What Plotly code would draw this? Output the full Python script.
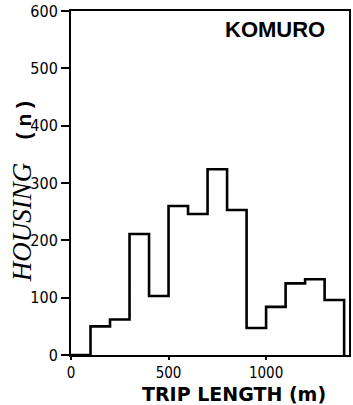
import plotly.graph_objects as go

# Data: housing counts per 100 m trip-length class (left edges)
bin_left = [100, 200, 300, 400, 500, 600, 700, 800, 900, 1000, 1100, 1200, 1300]
bin_right_end = 1400
housing = [50, 62, 211, 103, 260, 246, 324, 253, 47, 84, 125, 132, 96]
x_ticks = [0, 500, 1000]
y_ticks = [0, 100, 200, 300, 400, 500, 600]

xs = [0] + bin_left + [bin_right_end]
ys = [0] + housing + [0]

fig = go.Figure()
fig.add_trace(go.Scatter(
    x=xs, y=ys, mode="lines", line=dict(shape="hv", color="black", width=2.6),
    showlegend=False, hoverinfo="skip"))

tick_font = dict(family="Liberation Sans Narrow, DejaVu Sans Condensed", size=16, color="black")
xtick_font = dict(family="Liberation Sans Narrow, DejaVu Sans Condensed", size=15, color="black")

fig.update_layout(
    width=353, height=405,
    margin=dict(l=71, r=2, t=11, b=50),
    plot_bgcolor="white", paper_bgcolor="white",
    xaxis=dict(range=[0, 1425], showline=True, linecolor="black", linewidth=2, mirror=True,
               ticks="outside", ticklen=3, tickwidth=2, tickcolor="black",
               tickvals=x_ticks, ticktext=[str(v) for v in x_ticks],
               showgrid=False, zeroline=False, tickfont=xtick_font),
    yaxis=dict(range=[0, 600], showline=True, linecolor="black", linewidth=2, mirror=True,
               ticks="outside", ticklen=8, tickwidth=2, tickcolor="black",
               tickvals=y_ticks, ticktext=[str(v) for v in y_ticks],
               showgrid=False, zeroline=False, tickfont=tick_font),
    annotations=[
        dict(text="<b>KOMURO</b>", x=0.734, y=0.946, xref="paper", yref="paper",
             xanchor="center", yanchor="middle",
             showarrow=False, font=dict(family="Liberation Sans", size=22, color="black")),
        dict(text="<b>TRIP LENGTH (m)</b>", x=0.586, y=-0.0756, xref="paper", yref="paper",
             showarrow=False, xanchor="center", yanchor="top",
             font=dict(family="DejaVu Sans", size=19, color="black")),
        dict(text="<span style=\"font-family:'Liberation Serif';font-style:italic;font-size:27px\">HOUSING</span>"
                  "    <b>( n )</b>",
             x=-0.175, y=0.474, xref="paper", yref="paper", textangle=-90,
             showarrow=False, xanchor="center", yanchor="middle",
             font=dict(family="Liberation Sans", size=21, color="black")),
    ],
)

fig.write_html("out.html")
